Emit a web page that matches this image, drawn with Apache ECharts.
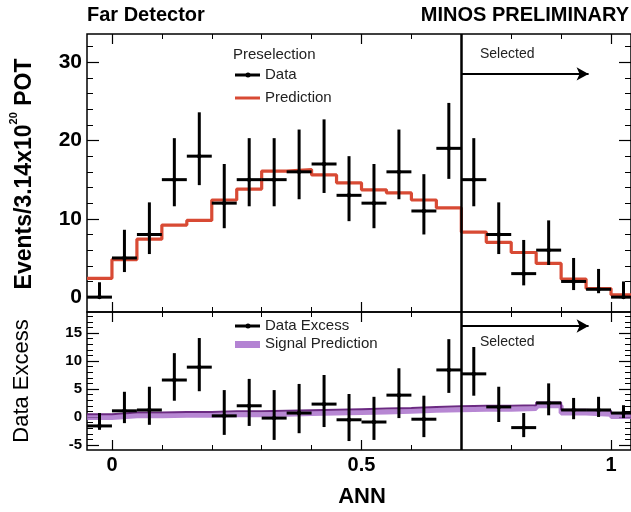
<!DOCTYPE html>
<html>
<head>
<meta charset="utf-8">
<script src="https://cdn.jsdelivr.net/npm/echarts@6/dist/echarts.min.js"></script>
<style>html,body{margin:0;padding:0;background:#fff}#c{width:631px;height:512px}</style>
</head>
<body>
<div id="c"></div>
<script>
// ---- data ----
const binEdges = [-0.05,0,0.05,0.1,0.15,0.2,0.25,0.3,0.35,0.4,0.45,0.5,0.55,0.6,0.65,0.7,0.75,0.8,0.85,0.9,0.95,1.0,1.05];
const dataCounts = [0,5,8,15,18,12,15,15,16,17,13,12,16,11,19,15,8,3,6,2,1,0];
const dataHigh   = [1.9,8.6,12.1,20.3,23.6,17.0,20.3,20.3,21.4,22.7,18.0,17.0,21.4,15.7,24.8,20.3,12.1,7.3,9.8,5.0,3.6,2.0];
const dataLow    = [0,3.2,5.5,11.6,14.3,8.8,11.6,11.6,12.5,13.3,9.7,8.8,12.5,8.0,15.1,11.6,5.5,1.5,4.1,0.9,0.5,0];
const prediction = [2.4,4.8,7.4,9.2,9.8,12.4,13.8,16.1,16.3,15.6,14.6,13.7,13.3,12.4,11.4,8.3,7.0,5.7,4.3,2.3,1.1,0.3];
const excess     = [-1.6,1.1,1.25,6.6,8.9,0.2,2.0,-0.2,0.7,2.3,-0.5,-0.9,3.9,-0.4,8.4,7.7,1.8,-1.9,2.5,1.25,1.25,0.7];
const excessHigh = [0.7,4.5,5.4,11.4,14.1,4.8,6.8,4.8,5.9,7.5,4.1,3.6,8.7,3.8,13.9,12.5,5.4,0.7,6.0,3.4,3.6,2.1];
const excessLow  = [-2.3,-1.1,-1.4,2.9,4.6,-3.2,-1.6,-4.1,-2.9,-1.8,-4.3,-4.1,-0.2,-3.6,4.3,3.8,-0.9,-3.6,0.3,-0.4,0,-0.2];
const signalPred = [0.5,0.8,0.8,0.9,0.9,1.0,1.0,1.1,1.2,1.3,1.4,1.5,1.6,1.8,1.9,2.0,2.0,2.1,2.6,1.3,1.1,0.7];
const cutValue = 0.7;

const xMajorTicks = [0,0.5,1];
const xMinorTicks = [0,0.1,0.2,0.3,0.4,0.5,0.6,0.7,0.8,0.9,1.0];
const yTopMajor = [0,10,20,30];
const yTopMinor = [0,2,4,6,8,10,12,14,16,18,20,22,24,26,28,30,32];
const yBotMajor = [-5,0,5,10,15];
const yBotMinor = [-5,-4,-3,-2,-1,0,1,2,3,4,5,6,7,8,9,10,11,12,13,14,15,16,17,18];

// ---- chart ----
const FONT = 'Liberation Sans';
const chart = echarts.init(document.getElementById('c'), null, {renderer:'canvas'});

const X_MIN = -0.05, X_MAX = 1.04;
const noLine = {show:false, onZero:false};
function xAxesFor(grid, labels){
  const base = {gridIndex:grid, type:'value', min:X_MIN, max:X_MAX, axisLine:noLine, splitLine:{show:false}};
  return [
    Object.assign({}, base, {position:'bottom', axisTick:{inside:true,length:5,customValues:xMinorTicks,lineStyle:{color:'#000',width:1}}, axisLabel:{show:false}}),
    Object.assign({}, base, {position:'top', axisTick:{inside:true,length:5,customValues:xMinorTicks,lineStyle:{color:'#000',width:1}}, axisLabel:{show:false}}),
    Object.assign({}, base, {position:'bottom', axisTick:{inside:true,length:10,customValues:xMajorTicks,lineStyle:{color:'#000',width:1.2}},
      axisLabel:{show:labels, customValues:xMajorTicks, fontFamily:FONT, fontWeight:'bold', fontSize:20, color:'#000', margin:5,
        formatter:v=>String(v)}}),
    Object.assign({}, base, {position:'top', axisTick:{inside:true,length:10,customValues:xMajorTicks,lineStyle:{color:'#000',width:1.2}}, axisLabel:{show:false}})
  ];
}
function yAxesFor(grid, min, max, major, minor, fs){
  const base = {gridIndex:grid, type:'value', min:min, max:max, axisLine:noLine, splitLine:{show:false}};
  return [
    Object.assign({}, base, {position:'left', axisTick:{inside:true,length:12,customValues:major,lineStyle:{color:'#000',width:1.2}},
      axisLabel:{customValues:major, fontFamily:FONT, fontWeight:'bold', fontSize:fs, color:'#000', margin:5}}),
    Object.assign({}, base, {position:'left', axisTick:{inside:true,length:6,customValues:minor,lineStyle:{color:'#000',width:1}}, axisLabel:{show:false}}),
    Object.assign({}, base, {position:'right', axisTick:{inside:true,length:12,customValues:major,lineStyle:{color:'#000',width:1.2}}, axisLabel:{show:false}}),
    Object.assign({}, base, {position:'right', axisTick:{inside:true,length:6,customValues:minor,lineStyle:{color:'#000',width:1}}, axisLabel:{show:false}})
  ];
}

function crossSeries(xi, yi, vals, lows, highs){
  const d = vals.map((v,i)=>[binEdges[i], binEdges[i+1], v, lows[i], highs[i]]);
  return {
    type:'custom', xAxisIndex:xi, yAxisIndex:yi, clip:true, z:5,
    encode:{x:[0,1], y:[2,3,4]},
    data:d,
    renderItem:function(params, api){
      const x0=api.value(0), x1=api.value(1), v=api.value(2), lo=api.value(3), hi=api.value(4);
      const xc=(x0+x1)/2;
      const pL=api.coord([x0,v]), pR=api.coord([x1,v]);
      const pLo=api.coord([xc,lo]), pHi=api.coord([xc,hi]);
      return {type:'group', children:[
        {type:'line', shape:{x1:pL[0],y1:pL[1],x2:pR[0],y2:pR[1]}, style:{stroke:'#000',lineWidth:3}},
        {type:'line', shape:{x1:pLo[0],y1:pLo[1],x2:pHi[0],y2:pHi[1]}, style:{stroke:'#000',lineWidth:3}},
        {type:'circle', shape:{cx:(pL[0]+pR[0])/2, cy:pL[1], r:2.2}, style:{fill:'#000'}}
      ]};
    }
  };
}
function stepData(vals){
  const d = vals.map((v,i)=>[binEdges[i], v]);
  d.push([binEdges[vals.length], vals[vals.length-1]]);
  return d;
}
const solidBlack = {type:'solid', color:'#000', width:2};

const option = {
  animation:false,
  backgroundColor:'#fff',
  grid:[
    {left:87, top:34, width:544, height:278, show:true, borderColor:'#000', borderWidth:1.5, backgroundColor:'transparent'},
    {left:87, top:312, width:544, height:138, show:true, borderColor:'#000', borderWidth:1.5, backgroundColor:'transparent'}
  ],
  xAxis: xAxesFor(0,false).concat(xAxesFor(1,true)),
  yAxis: yAxesFor(0,-1.9,33.6,yTopMajor,yTopMinor,21).concat(yAxesFor(1,-5.9,18.75,yBotMajor,yBotMinor,15)),
  series:[
    {
      type:'line', name:'Prediction', xAxisIndex:0, yAxisIndex:0, step:'end', showSymbol:false, clip:true, z:3,
      data:stepData(prediction),
      lineStyle:{color:'#d84a34', width:3.2},
      markLine:{
        silent:true, symbol:['none','none'], label:{show:false}, z:6, lineStyle:solidBlack,
        data:[
          [{coord:[cutValue,-1.9], lineStyle:{type:'solid',color:'#000',width:2.5}}, {coord:[cutValue,33.6]}],
          [{coord:[cutValue,28.5], symbol:'none', lineStyle:solidBlack}, {coord:[0.955,28.5], symbol:'arrow', symbolSize:[10,12]}]
        ]
      }
    },
    crossSeries(0,0,dataCounts,dataLow,dataHigh),
    {
      type:'line', name:'SignalBand', xAxisIndex:4, yAxisIndex:4, step:'end', showSymbol:false, clip:true, z:2,
      data:stepData(signalPred.map(v=>v-0.6)),
      lineStyle:{color:'rgba(165,105,200,0.8)', width:5}
    },
    {
      type:'line', name:'Signal Prediction', xAxisIndex:4, yAxisIndex:4, step:'end', showSymbol:false, clip:true, z:3,
      data:stepData(signalPred),
      lineStyle:{color:'#6b2a82', width:2},
      markLine:{
        silent:true, symbol:['none','none'], label:{show:false}, z:6, lineStyle:solidBlack,
        data:[
          [{coord:[cutValue,-5.9], lineStyle:{type:'solid',color:'#000',width:2.5}}, {coord:[cutValue,18.75]}],
          [{coord:[cutValue,16.25], symbol:'none', lineStyle:solidBlack}, {coord:[0.955,16.25], symbol:'arrow', symbolSize:[10,12]}]
        ]
      }
    },
    crossSeries(4,4,excess,excessLow,excessHigh)
  ],
  graphic:[
    {type:'text', left:87, top:5, style:{text:'Far Detector', font:'bold 20px "Liberation Sans"', fill:'#000'}},
    {type:'text', right:2, top:5, style:{text:'MINOS PRELIMINARY', font:'bold 20px "Liberation Sans"', fill:'#000'}},
    {type:'text', x:22, y:174, rotation:Math.PI/2, style:{
      text:'{a|Events/3.14x10}{s|20}{a| POT}', align:'center', verticalAlign:'middle',
      rich:{a:{fontFamily:FONT, fontWeight:'bold', fontSize:23, lineHeight:28, verticalAlign:'bottom', fill:'#000'},
            s:{fontFamily:FONT, fontWeight:'bold', fontSize:11, lineHeight:28, verticalAlign:'top', fill:'#000'}}}},
    {type:'text', x:22, y:381, rotation:Math.PI/2, style:{text:'Data Excess', align:'center', verticalAlign:'middle', font:'22px "Liberation Sans"', fill:'#000'}},
    {type:'text', x:362, y:497, style:{text:'ANN', align:'center', verticalAlign:'middle', font:'bold 22px "Liberation Sans"', fill:'#000'}},
    // top legend
    {type:'text', x:233, y:55, style:{text:'Preselection', verticalAlign:'middle', font:'15px "Liberation Sans"', fill:'#222'}},
    {type:'line', shape:{x1:235,y1:75,x2:260,y2:75}, style:{stroke:'#000', lineWidth:3}},
    {type:'circle', shape:{cx:248,cy:75,r:2.5}, style:{fill:'#000'}},
    {type:'text', x:265, y:75, style:{text:'Data', verticalAlign:'middle', font:'15px "Liberation Sans"', fill:'#222'}},
    {type:'line', shape:{x1:235,y1:98,x2:260,y2:98}, style:{stroke:'#d84a34', lineWidth:3}},
    {type:'text', x:265, y:98, style:{text:'Prediction', verticalAlign:'middle', font:'15px "Liberation Sans"', fill:'#222'}},
    {type:'text', x:480, y:54, style:{text:'Selected', verticalAlign:'middle', font:'14px "Liberation Sans"', fill:'#222'}},
    // bottom legend
    {type:'line', shape:{x1:235,y1:326,x2:260,y2:326}, style:{stroke:'#000', lineWidth:3}},
    {type:'circle', shape:{cx:248,cy:326,r:2.5}, style:{fill:'#000'}},
    {type:'text', x:265, y:326, style:{text:'Data Excess', verticalAlign:'middle', font:'15px "Liberation Sans"', fill:'#222'}},
    {type:'rect', shape:{x:235,y:341,width:25,height:7}, style:{fill:'rgba(160,100,200,0.8)'}},
    {type:'text', x:265, y:344, style:{text:'Signal Prediction', verticalAlign:'middle', font:'15px "Liberation Sans"', fill:'#222'}},
    {type:'text', x:480, y:342, style:{text:'Selected', verticalAlign:'middle', font:'14px "Liberation Sans"', fill:'#222'}}
  ]
};
chart.setOption(option);
</script>
</body>
</html>
